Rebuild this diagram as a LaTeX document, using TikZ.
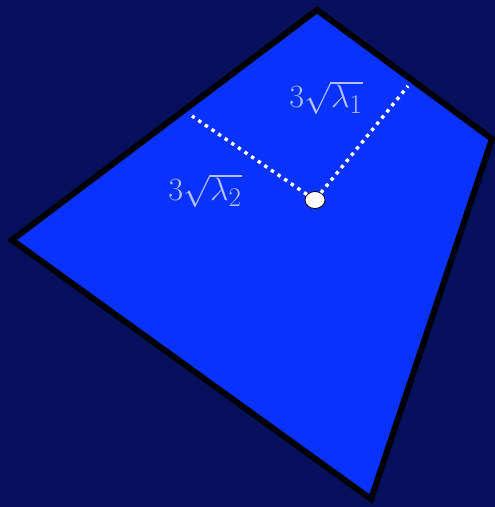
\documentclass[tikz,border=0pt]{standalone}
\usepackage{graphicx}
\usepackage{xcolor}
\usepackage{tikz}
\usetikzlibrary{shapes.geometric, calc}
\definecolor{night}{HTML}{060F5C}
\definecolor{region}{HTML}{0A32FF}
\definecolor{edge}{HTML}{000000}
\definecolor{soft}{HTML}{B0C0F6}
\newcommand{\axtext}[1]{\scalebox{1.3}{\Huge$#1$}}
\tikzset{
  quad/.style  ={draw=edge, line width=6pt, fill=region, line join=miter},
  centre/.style={ellipse, draw=edge, line width=0.8pt, fill=white,
                 minimum width=20pt, minimum height=17pt, inner sep=0pt},
  axis/.style  ={draw=white, line width=3.4pt, dash pattern=on 3.4pt off 4.6pt},
  axlabel/.style={text=soft, inner sep=0pt}
}
\begin{document}
\begin{tikzpicture}[x=1pt, y=-1pt]
  \fill[night] (0,0) rectangle (495,507);
  \useasboundingbox (0,0) rectangle (495,507);

  \coordinate (top)    at (317,10);
  \coordinate (right)  at (492,139);
  \coordinate (bottom) at (371,499);
  \coordinate (left)   at (12,240);
  \draw[quad] (top) -- (right) -- (bottom) -- (left) -- cycle;

  \node[centre] (mean) at (315,200) {};
  \coordinate (end1) at (408,86);
  \coordinate (end2) at (192,116);
  \draw[axis] (mean) -- (end1);
  \draw[axis] (mean) -- (end2);

  \node[axlabel] (lam1) at (326,98) {\axtext{3\sqrt{\lambda_1}}};
  \node[axlabel] (lam2) at (205,191) {\axtext{3\sqrt{\lambda_2}}};
\end{tikzpicture}
\end{document}
